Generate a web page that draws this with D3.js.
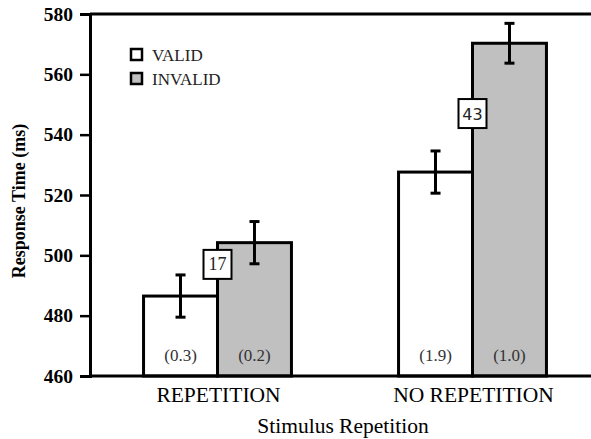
<!DOCTYPE html>
<html lang="en">
<head>
    <meta charset="UTF-8">
    <title>Response Time</title>
    <script src="https://d3js.org/d3.v7.min.js"></script>
    <style>
        body { margin: 0; background: #fff; }
        svg text { font-family: "Liberation Serif", "Times New Roman", serif; }
    </style>
</head>
<body>
    <svg width="591" height="439" id="chart"></svg>

    <script>
        // data
        const categories = ["REPETITION", "NO REPETITION"];
        const series = ["VALID", "INVALID"];
        const validMeans = [486.5, 527.6];
        const invalidMeans = [504.2, 570.3];
        const validErr = [7, 7];
        const invalidErr = [7, 6.6];
        const errorRates = [["(0.3)", "(0.2)"], ["(1.9)", "(1.0)"]];
        const effects = ["17", "43"];
        const effectAt = [497, 547]; // where the effect boxes sit, in ms
        const yTicks = [460, 480, 500, 520, 540, 560, 580];

        const svg = d3.select("#chart");
        const plotLeft = 90, plotRight = 600, plotTop = 14, plotBottom = 376;

        const x = d3.scaleBand().domain(categories).range([plotLeft, plotRight])
            .paddingInner(0.42).paddingOuter(0.21);
        const xs = d3.scaleBand().domain(series).range([0, x.bandwidth()]);
        const y = d3.scaleLinear().domain([460, 580]).range([plotBottom, plotTop]);

        const colors = { VALID: "#ffffff", INVALID: "#c0c0c0" };

        const rows = categories.map((c, i) => ({
            cat: c,
            bars: [
                { s: "VALID", v: validMeans[i], e: validErr[i], lab: errorRates[i][0] },
                { s: "INVALID", v: invalidMeans[i], e: invalidErr[i], lab: errorRates[i][1] }
            ]
        }));

        // bars
        const g = svg.selectAll("g.cat").data(rows).enter().append("g")
            .attr("class", "cat")
            .attr("transform", d => `translate(${x(d.cat)},0)`);

        g.selectAll("rect").data(d => d.bars).enter().append("rect")
            .attr("x", d => xs(d.s))
            .attr("y", d => y(d.v))
            .attr("width", xs.bandwidth())
            .attr("height", d => y(460) - y(d.v))
            .attr("fill", d => colors[d.s])
            .attr("stroke", "#000")
            .attr("stroke-width", 3);

        // error bars
        const eb = g.selectAll("g.err").data(d => d.bars).enter().append("g")
            .attr("class", "err")
            .attr("transform", d => `translate(${xs(d.s) + xs.bandwidth() / 2},0)`);
        eb.append("line").attr("y1", d => y(d.v + d.e)).attr("y2", d => y(d.v - d.e))
            .attr("stroke", "#000").attr("stroke-width", 3);
        eb.append("line").attr("x1", -5).attr("x2", 5)
            .attr("y1", d => y(d.v + d.e)).attr("y2", d => y(d.v + d.e))
            .attr("stroke", "#000").attr("stroke-width", 3);
        eb.append("line").attr("x1", -5).attr("x2", 5)
            .attr("y1", d => y(d.v - d.e)).attr("y2", d => y(d.v - d.e))
            .attr("stroke", "#000").attr("stroke-width", 3);

        // error rate labels in bars
        g.selectAll("text.rate").data(d => d.bars).enter().append("text")
            .attr("class", "rate")
            .attr("x", d => xs(d.s) + xs.bandwidth() / 2)
            .attr("y", 361)
            .attr("text-anchor", "middle")
            .attr("font-size", 17)
            .attr("fill", "#333")
            .text(d => d.lab);

        // effect boxes
        rows.forEach((r, i) => {
            const cx = x(r.cat) + xs.bandwidth();
            const cy = y(effectAt[i]);
            svg.append("rect")
                .attr("x", cx - 14).attr("y", cy - 14.5)
                .attr("width", 28).attr("height", 29)
                .attr("fill", "#fff").attr("stroke", "#000").attr("stroke-width", 2);
            svg.append("text")
                .attr("x", cx).attr("y", cy + 6)
                .attr("text-anchor", "middle")
                .attr("font-size", i === 0 ? 18 : 16)
                .style("font-family", i === 0 ? "Liberation Serif" : "DejaVu Sans")
                .attr("fill", "#222")
                .text(effects[i]);
        });

        // axes
        const yAxis = svg.append("g")
            .attr("transform", `translate(${plotLeft},0)`)
            .call(d3.axisLeft(y).tickValues(yTicks).tickSize(10).tickPadding(7));
        yAxis.select(".domain").attr("stroke-width", 3);
        yAxis.selectAll(".tick line").attr("stroke-width", 2.5);
        yAxis.selectAll(".tick text")
            .attr("font-size", 19.5).attr("font-weight", "bold")
            .style("font-family", "Liberation Serif").attr("fill", "#000");

        svg.append("line").attr("x1", plotLeft).attr("x2", 591)
            .attr("y1", plotBottom).attr("y2", plotBottom)
            .attr("stroke", "#000").attr("stroke-width", 3);
        svg.append("line").attr("x1", plotLeft).attr("x2", 591)
            .attr("y1", plotTop).attr("y2", plotTop)
            .attr("stroke", "#000").attr("stroke-width", 3);

        svg.selectAll("text.cat").data(categories).enter().append("text")
            .attr("class", "cat")
            .attr("x", d => x(d) + x.bandwidth() / 2 + 1)
            .attr("y", 402)
            .attr("text-anchor", "middle")
            .attr("font-size", 21.5)
            .text(d => d);

        svg.append("text")
            .attr("x", 343).attr("y", 433)
            .attr("text-anchor", "middle")
            .attr("font-size", 21.5)
            .text("Stimulus Repetition");

        svg.append("text")
            .attr("transform", `translate(25,201) rotate(-90)`)
            .attr("text-anchor", "middle")
            .attr("font-size", 18)
            .attr("font-weight", "bold")
            .text("Response Time (ms)");

        // legend
        const leg = svg.selectAll("g.leg").data(series).enter().append("g")
            .attr("class", "leg")
            .attr("transform", (d, i) => `translate(131,${49 + i * 24})`);
        leg.append("rect").attr("width", 11).attr("height", 11)
            .attr("fill", d => colors[d]).attr("stroke", "#000").attr("stroke-width", 2.5);
        leg.append("text").attr("x", 21).attr("y", 12)
            .attr("font-size", 17).attr("fill", "#222")
            .text(d => d);
    </script>
</body>
</html>
